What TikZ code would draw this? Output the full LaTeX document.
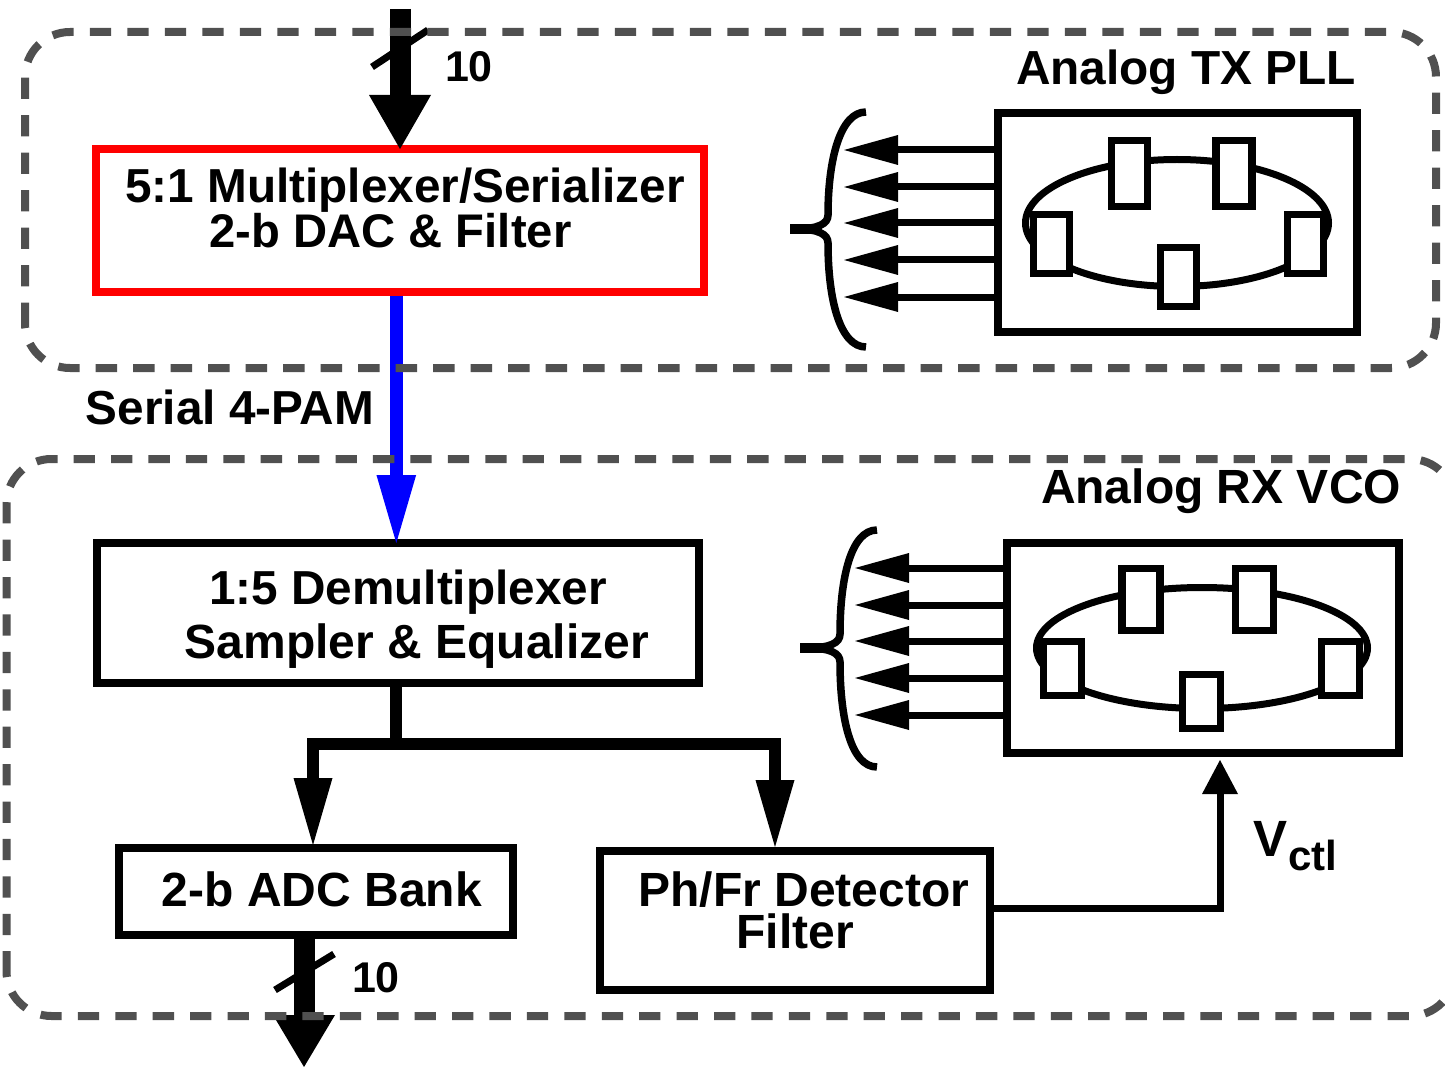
\documentclass[tikz,border=0pt]{standalone}
\usepackage{fontspec}
\setmainfont{Liberation Sans}
\usetikzlibrary{arrows.meta,shapes.geometric}
\newcommand{\fs}[1]{\fontsize{#1pt}{#1pt}\selectfont\bfseries}
\definecolor{dashgray}{HTML}{505050}
\definecolor{pureblue}{HTML}{0000FF}
\tikzset{
  x=1pt,y=-1pt,
  box/.style={draw=black,line width=8pt,inner sep=0pt,outer sep=0pt,fill=white},
  region/.style={draw=dashgray,line width=8pt,rounded corners=45pt},
  cell/.style={draw=black,line width=7.5pt,fill=white,inner sep=0pt,outer sep=0pt,minimum width=36pt},
  ring/.style={draw=black,line width=7pt,ellipse,inner sep=0pt,outer sep=0pt},
  lbl/.style={anchor=base,inner sep=0pt,outer sep=0pt,text=black},
  wide/.style={line width=21pt,-{Triangle[length=54pt,width=62pt,sep=0pt,line width=0pt]}},
  bus/.style={line width=12.5pt,-{Triangle[length=67pt,width=39pt,sep=0pt,line width=0pt]}},
  tap/.style={line width=7pt,-{Triangle[length=54pt,width=30pt,sep=0pt,line width=0pt]}},
  slash/.style={line width=7pt},
  curly/.style={line width=7.5pt,line cap=butt},
}
\begin{document}
\begin{tikzpicture}
\useasboundingbox (0,0) rectangle (1445,1067);
\fill[white] (0,0) rectangle (1445,1067);
% blocks
\node[box,draw=red,minimum width=608pt,minimum height=143pt] (mux) at (400,220.5) {};
\node[box,minimum width=602pt,minimum height=140.5pt] (demux) at (397.5,612.75) {};
\node[box,minimum width=394pt,minimum height=87pt] (adc) at (316,891.5) {};
\node[box,minimum width=390pt,minimum height=139pt] (det) at (795,920.5) {};
\node[box,minimum width=358.7pt,minimum height=218.7pt] (txbox) at (1177.3,222.7) {};
\node[box,minimum width=392pt,minimum height=210pt] (rxbox) at (1202.5,648) {};
% TX ring
\node[ring,minimum width=303pt,minimum height=127pt] (txring) at (1177,223) {};
\node[cell,minimum height=66pt] (txa) at (1129.5,173.5) {};
\node[cell,minimum height=66pt] (txb) at (1234,173.5) {};
\node[cell,minimum height=59pt] (txc) at (1051.5,244) {};
\node[cell,minimum height=59pt] (txd) at (1305.5,244) {};
\node[cell,minimum height=59pt] (txe) at (1178.5,277) {};
% RX ring
\node[ring,minimum width=331pt,minimum height=121pt] (rxring) at (1202,648) {};
\node[cell,minimum width=38pt,minimum height=62pt] (rxa) at (1141,599.5) {};
\node[cell,minimum width=38pt,minimum height=62pt] (rxb) at (1254.5,599.5) {};
\node[cell,minimum width=38pt,minimum height=54pt] (rxc) at (1062.5,668.5) {};
\node[cell,minimum width=38pt,minimum height=54pt] (rxd) at (1340.5,668.5) {};
\node[cell,minimum width=38pt,minimum height=54pt] (rxe) at (1201.5,701.5) {};
% free ends
\coordinate (inTop) at (400,9);
\coordinate (outBot) at (304,1067);
\coordinate (slashA) at (372,67);
\coordinate (slashB) at (428,30);
\coordinate (slashC) at (275,990);
\coordinate (slashD) at (334,954);
\coordinate (vtip) at (1220,760);
\coordinate (busL) at (313,845);
\coordinate (busR) at (775,847);
\coordinate (blueTip) at (396.3,543);
% wide arrows and slashes
\draw[wide] (inTop) -- (400,0 |- mux.north);
\draw[slash] (slashA) -- (slashB);
\draw[wide,-{Triangle[length=52pt,width=62pt,sep=0pt,line width=0pt]}] (304,0 |- adc.south) -- (outBot);
\draw[slash] (slashC) -- (slashD);
% serial link
\draw[line width=13.3pt,color=pureblue,shorten <=4pt,-{Triangle[length=68pt,width=39.7pt,sep=0pt,line width=0pt]}] (blueTip |- mux.south) -- (blueTip);
% branch
\draw[bus] (396,680) |- (313,744) -- (busL);
\draw[bus] (396,680) |- (775,744) -- (busR);
% control
\draw[line width=7pt,-{Triangle[length=34pt,width=36pt,sep=0pt,line width=0pt]}] (det.east |- 0,908) -| (vtip);
% tap arrows
\foreach \y/\n in {150/a,187/b,223/c,260/d,297/e}{
  \coordinate (tt\n) at (844,\y);
  \draw[tap] (txbox.west |- tt\n) -- (tt\n);
}
\foreach \y/\n in {568/a,605/b,641/c,678/d,715/e}{
  \coordinate (rt\n) at (855,\y);
  \draw[tap] (rxbox.west |- rt\n) -- (rt\n);
}
% braces
\draw[curly] (866,112) .. controls (840,112) and (828,160) .. (828,215) .. controls (828,224) and (818,229) .. (795,229) .. controls (818,229) and (828,234) .. (828,243) .. controls (828,300) and (840,347) .. (866,347);
\draw[line width=10pt] (790,229) -- (813,229);
\draw[curly] (877,530) .. controls (851,530) and (840,578) .. (840,634) .. controls (840,643) and (830,648) .. (806,648) .. controls (830,648) and (840,653) .. (840,662) .. controls (840,719) and (851,767) .. (877,767);
\draw[line width=10pt] (800,648) -- (824,648);
% labels
\node[lbl,font=\fs{43}] (n10a) at (469,82) {10};
\node[lbl,font=\fs{43}] (n10b) at (376,992) {10};
\node[lbl,font=\fs{47.8}] (txt) at (1186,85) {Analog TX PLL};
\node[lbl,font=\fs{48}] (rxt) at (1221,503) {Analog RX VCO};
\node[lbl,font=\fs{47.7}] (m1) at (405,203) {5:1 Multiplexer/Serializer};
\node[lbl,font=\fs{47.2}] (m2) at (390.5,248) {2-b DAC \& Filter};
\node[lbl,font=\fs{47.7}] (pam) at (230,424) {Serial 4-PAM};
\node[lbl,font=\fs{47.7}] (d1) at (408,604) {1:5 Demultiplexer};
\node[lbl,font=\fs{48}] (d2) at (417,658) {Sampler \& Equalizer};
\node[lbl,font=\fs{48}] (a1) at (322,906) {2-b ADC Bank};
\node[lbl,font=\fs{48}] (f1) at (804,906) {Ph/Fr Detector};
\node[lbl,font=\fs{48}] (f2) at (795,948) {Filter};
\node[lbl,font=\fs{51},anchor=base west] (v) at (1253,856) {V};
\node[lbl,font=\fs{42},anchor=base west] (ctl) at (1288,870) {ctl};
% dashed regions
\draw[region,dash pattern=on 21.3pt off 16.2pt] (25,324) -- (25,32) -- (1436,32) -- (1436,368) -- (25,368) -- (25,323);
\draw[region,dash pattern=on 21.3pt off 16.12pt] (6.5,972.5) -- (6.5,459) -- (1455,459) -- (1455,1016) -- (6.5,1016) -- (6.5,971);
\end{tikzpicture}
\end{document}
